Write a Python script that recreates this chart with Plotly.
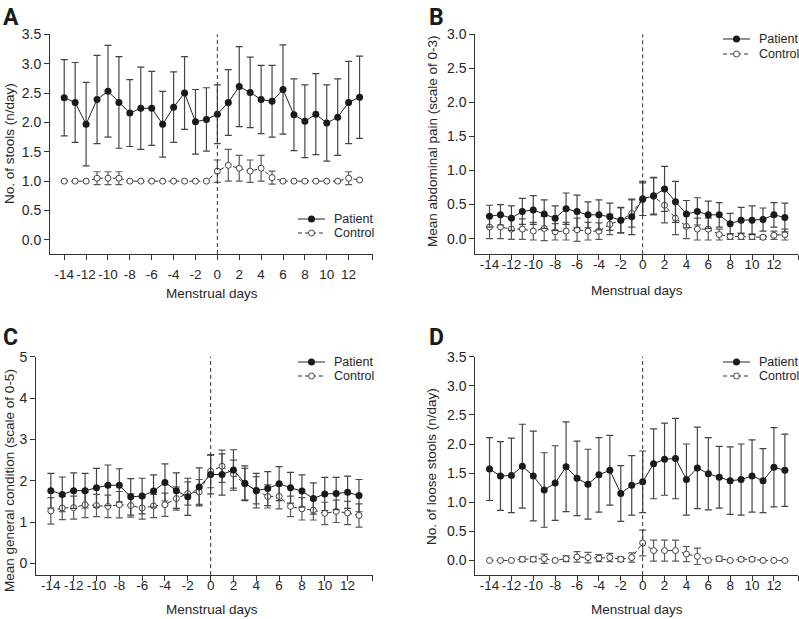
import plotly.graph_objects as go

# ---------------- data ----------------
days = list(range(-14, 14))

# Panel A: No. of stools (n/day)
a_pat = [2.42, 2.34, 1.97, 2.39, 2.53, 2.34, 2.16, 2.24, 2.24, 1.97, 2.26, 2.50, 2.01, 2.05,
         2.14, 2.34, 2.61, 2.51, 2.39, 2.36, 2.56, 2.13, 2.02, 2.14, 1.99, 2.09, 2.34, 2.43]
a_pat_sd = [0.65, 0.68, 0.71, 0.75, 0.78, 0.78, 0.57, 0.70, 0.63, 0.56, 0.60, 0.62, 0.55, 0.54,
            0.50, 0.56, 0.68, 0.60, 0.58, 0.61, 0.76, 0.61, 0.62, 0.69, 0.65, 0.65, 0.70, 0.70]
a_con = [1.00, 1.00, 1.00, 1.05, 1.05, 1.05, 1.00, 1.00, 1.00, 1.00, 1.00, 1.00, 1.00, 1.00,
         1.17, 1.27, 1.22, 1.17, 1.22, 1.06, 1.00, 1.00, 1.00, 1.00, 1.00, 1.00, 1.05, 1.02]
a_con_sd = [0, 0, 0, 0.11, 0.11, 0.11, 0, 0, 0, 0, 0, 0, 0, 0,
            0.19, 0.27, 0.22, 0.19, 0.22, 0.11, 0, 0, 0, 0, 0, 0, 0.11, 0]

# Panel B: Mean abdominal pain (scale of 0-3)
b_pat = [0.33, 0.35, 0.30, 0.40, 0.42, 0.36, 0.30, 0.44, 0.40, 0.35, 0.35, 0.32, 0.27, 0.32,
         0.58, 0.63, 0.73, 0.54, 0.36, 0.40, 0.35, 0.35, 0.22, 0.27, 0.27, 0.28, 0.35, 0.31]
b_pat_sd = [0.16, 0.15, 0.18, 0.19, 0.21, 0.21, 0.18, 0.23, 0.24, 0.19, 0.22, 0.20, 0.19, 0.26,
            0.24, 0.27, 0.33, 0.30, 0.20, 0.20, 0.20, 0.18, 0.15, 0.19, 0.21, 0.17, 0.18, 0.21]
b_con = [0.17, 0.17, 0.14, 0.14, 0.11, 0.15, 0.10, 0.11, 0.13, 0.11, 0.11, 0.21, 0.27, 0.37,
         0.59, 0.62, 0.49, 0.30, 0.18, 0.14, 0.14, 0.06, 0.03, 0.03, 0.03, 0.02, 0.05, 0.06]
b_con_sd = [0.17, 0.17, 0.15, 0.15, 0.13, 0.18, 0.12, 0.13, 0.17, 0.13, 0.12, 0.15, 0.18, 0.20,
            0.25, 0.27, 0.26, 0.24, 0.18, 0.16, 0.16, 0.08, 0.04, 0.04, 0.04, 0.03, 0.06, 0.08]

# Panel C: Mean general condition (scale of 0-5)
c_pat = [1.76, 1.67, 1.76, 1.76, 1.83, 1.89, 1.89, 1.61, 1.63, 1.75, 1.96, 1.76, 1.61, 1.85,
         2.15, 2.15, 2.26, 1.94, 1.76, 1.81, 1.93, 1.83, 1.75, 1.57, 1.68, 1.69, 1.72, 1.64]
c_pat_sd = [0.42, 0.42, 0.43, 0.42, 0.47, 0.49, 0.40, 0.44, 0.43, 0.39, 0.45, 0.43, 0.45, 0.46,
            0.47, 0.50, 0.49, 0.42, 0.42, 0.41, 0.41, 0.37, 0.39, 0.38, 0.40, 0.39, 0.39, 0.39]
c_con = [1.27, 1.34, 1.35, 1.42, 1.40, 1.38, 1.42, 1.40, 1.34, 1.39, 1.42, 1.57, 1.69, 1.73,
         2.23, 2.35, 2.16, 1.92, 1.77, 1.62, 1.62, 1.38, 1.32, 1.29, 1.21, 1.26, 1.22, 1.16]
c_con_sd = [0.32, 0.28, 0.28, 0.31, 0.27, 0.27, 0.32, 0.28, 0.27, 0.28, 0.28, 0.28, 0.28, 0.30,
            0.40, 0.39, 0.34, 0.38, 0.33, 0.28, 0.30, 0.25, 0.27, 0.24, 0.27, 0.27, 0.28, 0.28]

# Panel D: No. of loose stools (n/day)
d_pat = [1.57, 1.45, 1.46, 1.62, 1.45, 1.21, 1.33, 1.61, 1.41, 1.31, 1.47, 1.55, 1.15, 1.29,
         1.35, 1.66, 1.74, 1.75, 1.39, 1.59, 1.49, 1.43, 1.37, 1.39, 1.45, 1.37, 1.60, 1.55]
d_pat_sd = [0.54, 0.59, 0.64, 0.72, 0.77, 0.64, 0.64, 0.77, 0.64, 0.60, 0.64, 0.60, 0.48, 0.51,
            0.53, 0.60, 0.62, 0.69, 0.61, 0.70, 0.62, 0.53, 0.58, 0.61, 0.62, 0.55, 0.68, 0.62]
d_con = [0.00, 0.00, 0.00, 0.02, 0.02, 0.03, 0.00, 0.03, 0.06, 0.05, 0.04, 0.05, 0.02, 0.05,
         0.30, 0.17, 0.17, 0.17, 0.11, 0.07, 0.00, 0.03, 0.00, 0.02, 0.02, 0.00, 0.00, 0.00]
d_con_sd = [0, 0, 0, 0.04, 0.04, 0.08, 0, 0.05, 0.09, 0.09, 0.06, 0.07, 0.04, 0.08,
            0.22, 0.18, 0.18, 0.18, 0.13, 0.14, 0, 0.04, 0, 0.03, 0.03, 0, 0, 0]

x_ticks = list(range(-14, 13, 2))
series_names = ["Patient", "Control"]
x_title = "Menstrual days"

panels = [
    dict(letter="A", pat=a_pat, pat_sd=a_pat_sd, con=a_con, con_sd=a_con_sd,
         ytitle="No. of stools (n/day)", yticks=[0, 0.5, 1, 1.5, 2, 2.5, 3, 3.5], yfmt=".1f",
         yrange=[-0.24, 3.5]),
    dict(letter="B", pat=b_pat, pat_sd=b_pat_sd, con=b_con, con_sd=b_con_sd,
         ytitle="Mean abdominal pain (scale of 0-3)", yticks=[0, 0.5, 1, 1.5, 2, 2.5, 3], yfmt=".1f",
         yrange=[-0.23, 3.0]),
    dict(letter="C", pat=c_pat, pat_sd=c_pat_sd, con=c_con, con_sd=c_con_sd,
         ytitle="Mean general condition (scale of 0-5)", yticks=[0, 1, 2, 3, 4, 5], yfmt="d",
         yrange=[-0.28, 5.0]),
    dict(letter="D", pat=d_pat, pat_sd=d_pat_sd, con=d_con, con_sd=d_con_sd,
         ytitle="No. of loose stools (n/day)", yticks=[0, 0.5, 1, 1.5, 2, 2.5, 3, 3.5], yfmt=".1f",
         yrange=[-0.25, 3.5]),
]

# ---------------- layout geometry (pixels) ----------------
W, H = 799, 619
boxes = [(50, 372.7, 34.3, 254.0), (475.3, 798.0, 34.3, 254.3),
         (36, 372.7, 356.7, 575.0), (475.3, 798.0, 356.7, 575.0)]
letter_pos = [(1, 2), (427, 2), (1, 322), (427, 322)]
ytitle_pos = [(9, 144), (432, 141), (9, 481), (432, 467)]
xtitle_pos = [(212, 293), (637, 290), (212, 609), (637, 609)]
xlabel_standoff = [3, -8, -7, -7]
# legend: (line x0, line x1, text x, row1 y, row2 y)
legend_geo = [(298, 325, 332, 219, 233), (723, 750, 757, 39, 54),
              (298, 325, 332, 362, 376), (723, 750, 757, 362, 376)]


def px(x):
    return x / W


def py(y):
    return 1 - y / H


FONT = "Liberation Sans, Arial, sans-serif"
TXT = "#262626"
DASH = "4px,3px"


def clean(sd):
    return [s if s > 0 else None for s in sd]


fig = go.Figure()
annotations = []
shapes = []
XR = [-15.3, 14.2]

for i, p in enumerate(panels):
    n = i + 1
    xa = "x" if n == 1 else f"x{n}"
    ya = "y" if n == 1 else f"y{n}"
    fig.add_trace(go.Scatter(
        x=days, y=p["con"], name=series_names[1], mode="lines+markers",
        line=dict(color="#333333", width=1, dash=DASH),
        marker=dict(symbol="circle", size=6, color="white", line=dict(color="#444444", width=1)),
        error_y=dict(type="data", array=clean(p["con_sd"]), color="#5a5a5a", thickness=1.2, width=3.5),
        xaxis=xa, yaxis=ya, showlegend=False, hoverinfo="skip"))
    fig.add_trace(go.Scatter(
        x=days, y=p["pat"], name=series_names[0], mode="lines+markers",
        line=dict(color="#222222", width=1),
        marker=dict(symbol="circle", size=7, color="#1a1a1a"),
        error_y=dict(type="data", array=clean(p["pat_sd"]), color="#444444", thickness=1.2, width=3.5),
        xaxis=xa, yaxis=ya, showlegend=False, hoverinfo="skip"))

    l, r, t, b = boxes[i]
    axis_common = dict(showgrid=False, zeroline=False, showline=True, linecolor="#333333",
                       linewidth=1, ticks="outside", ticklen=5, tickwidth=1, tickcolor="#333333",
                       automargin=False)
    xkey = "xaxis" if n == 1 else f"xaxis{n}"
    ykey = "yaxis" if n == 1 else f"yaxis{n}"
    fig.layout[xkey] = dict(axis_common, domain=[px(l), px(r)], anchor=ya, range=XR,
                            tickvals=x_ticks + [XR[1]],
                            ticktext=[str(v) for v in x_ticks] + [""],
                            tickangle=0, ticklabelstandoff=xlabel_standoff[i],
                            tickfont=dict(family=FONT, size=13.5, color=TXT))
    fig.layout[ykey] = dict(axis_common, domain=[py(b), py(t)], anchor=xa, range=p["yrange"],
                            tickvals=p["yticks"], tickformat=p["yfmt"],
                            tickfont=dict(family=FONT, size=14, color=TXT))

    # vertical dashed line at day 0
    shapes.append(dict(type="line", xref=xa, yref=f"{ya} domain", x0=0, x1=0, y0=0, y1=1,
                       line=dict(color="#333333", width=1, dash=DASH)))

    lx, ly = letter_pos[i]
    annotations.append(dict(text=f"<b>{p['letter']}</b>", x=px(lx), y=py(ly), xref="paper", yref="paper",
                            xanchor="left", yanchor="top", showarrow=False,
                            font=dict(family="Liberation Sans Narrow, Arial Narrow, Roboto, sans-serif",
                                      size=23, color="#1a1a1a")))
    tx, ty = ytitle_pos[i]
    annotations.append(dict(text=p["ytitle"], x=px(tx), y=py(ty), xref="paper", yref="paper",
                            xanchor="center", yanchor="middle", textangle=-90, showarrow=False,
                            font=dict(family=FONT, size=13.5, color=TXT)))
    tx, ty = xtitle_pos[i]
    annotations.append(dict(text=x_title, x=px(tx), y=py(ty), xref="paper", yref="paper",
                            xanchor="center", yanchor="middle", showarrow=False,
                            font=dict(family=FONT, size=13.5, color=TXT)))

    # manual legend
    x0, x1, xt, r1, r2 = legend_geo[i]
    xm = (x0 + x1) / 2
    shapes.append(dict(type="line", xref="paper", yref="paper", x0=px(x0), x1=px(x1),
                       y0=py(r1), y1=py(r1), line=dict(color="#222222", width=1)))
    shapes.append(dict(type="circle", xref="paper", yref="paper", x0=px(xm - 3.5), x1=px(xm + 3.5),
                       y0=py(r1 + 3.5), y1=py(r1 - 3.5), fillcolor="#1a1a1a", line=dict(width=0)))
    shapes.append(dict(type="line", xref="paper", yref="paper", x0=px(x0), x1=px(x1),
                       y0=py(r2), y1=py(r2), line=dict(color="#333333", width=1, dash=DASH)))
    shapes.append(dict(type="circle", xref="paper", yref="paper", x0=px(xm - 3), x1=px(xm + 3),
                       y0=py(r2 + 3), y1=py(r2 - 3), fillcolor="white",
                       line=dict(color="#444444", width=1)))
    for name, ry in zip(series_names, (r1, r2)):
        annotations.append(dict(text=name, x=px(xt), y=py(ry), xref="paper", yref="paper",
                                xanchor="left", yanchor="middle", showarrow=False,
                                font=dict(family=FONT, size=12.5, color=TXT)))

fig.update_layout(template="none", width=W, height=H,
                  margin=dict(l=0, r=0, t=0, b=0, pad=0, autoexpand=False),
                  paper_bgcolor="white", plot_bgcolor="white", showlegend=False,
                  annotations=annotations, shapes=shapes)

fig.write_html("out.html", config={"displayModeBar": False},
               post_script="document.body.style.margin='0px';document.body.style.overflow='hidden';")
